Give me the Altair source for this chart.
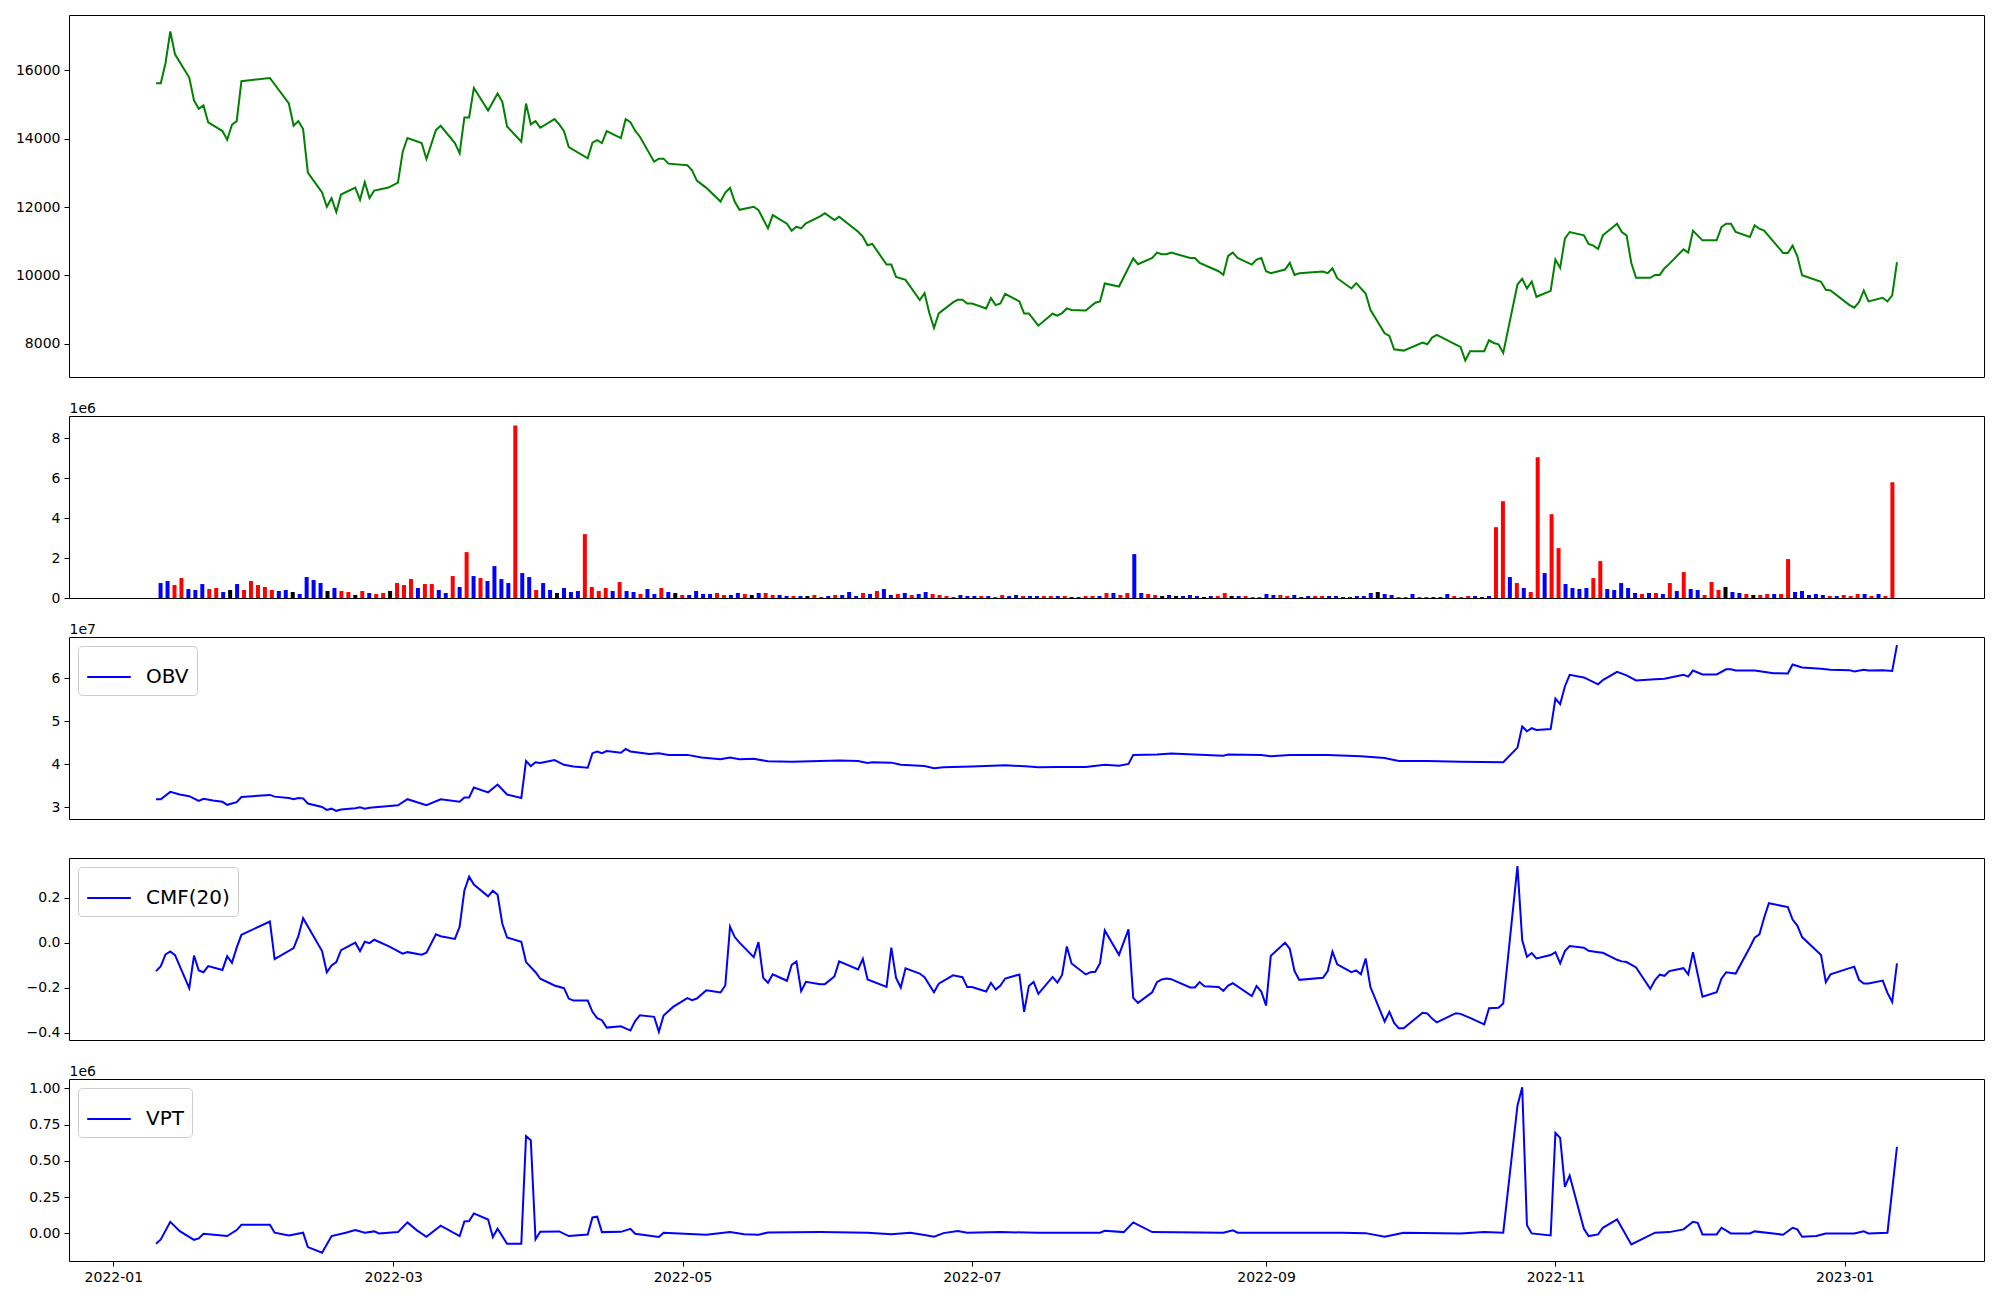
import altair as alt
import pandas as pd

# ---------------- data (days counted from 2022-01-01) ----------------
price_day = [9, 10, 11, 12, 13, 16, 17, 18, 19, 20, 23, 24, 25, 26, 27, 33, 37, 38, 39, 40, 41, 44, 45, 46, 47, 48,
             51, 52, 53, 54, 55, 58, 60, 61, 62, 65, 66, 68, 69, 72, 73, 74, 75, 76, 79, 81, 82, 83, 86, 87, 88, 89, 90,
             93, 94, 95, 96, 100, 101, 102, 103, 104, 107, 108, 109, 110, 111, 114, 115, 116, 117, 121, 122, 123, 125,
             128, 129, 130, 131, 132, 135, 136, 138, 139, 142, 143, 144, 145, 146, 149, 150, 152, 153, 157, 158, 159,
             160, 163, 164, 165, 167, 170, 171, 172, 173, 174, 177, 178, 179, 180, 181, 184, 185, 186, 187, 188, 191,
             192, 193, 195, 198, 199, 200, 201, 202, 205, 207, 208, 209, 212, 215, 216, 219, 220, 221, 222, 223, 227,
             228, 229, 233, 234, 235, 236, 237, 240, 241, 242, 243, 244, 247, 248, 249, 250, 255, 256, 257, 258, 261,
             262, 264, 265, 268, 269, 270, 272, 276, 277, 278, 279, 283, 284, 285, 286, 289, 290, 291, 292, 293, 296,
             297, 298, 299, 300, 303, 304, 305, 306, 307, 310, 311, 312, 313, 314, 317, 318, 319, 320, 321, 324, 325,
             326, 327, 328, 331, 332, 333, 335, 338, 339, 340, 341, 342, 345, 346, 347, 348, 352, 353, 354, 355, 356,
             360, 361, 362, 366, 367, 368, 369, 370, 373, 374, 375, 376]
price_close = [15625, 15625, 16218, 17142, 16471, 15791, 15120, 14877, 14974, 14478, 14225, 13972, 14410, 14517, 15684,
               15781, 15032, 14381, 14517, 14283, 13010, 12426, 12008, 12261, 11852, 12368, 12572, 12212, 12728, 12261,
               12484, 12572, 12718, 13622, 14021, 13875, 13408, 14254, 14381, 13875, 13574, 14624, 14624, 15489, 14828,
               15324, 15081, 14361, 13914, 15032, 14420, 14517, 14322, 14575, 14420, 14225, 13758, 13428, 13885, 13962,
               13875, 14225, 14021, 14575, 14488, 14235, 14060, 13330, 13418, 13418, 13272, 13223, 13078, 12776, 12562,
               12163, 12426, 12562, 12154, 11920, 12008, 11911, 11376, 11765, 11512, 11308, 11425, 11376, 11522, 11726,
               11823, 11619, 11716, 11279, 11133, 10880, 10919, 10316, 10316, 9956, 9869, 9276, 9480, 8906, 8459, 8887,
               9208, 9285, 9285, 9178, 9178, 9032, 9334, 9130, 9178, 9460, 9237, 8887, 8887, 8527, 8877, 8819, 8896,
               9032, 8984, 8974, 9198, 9237, 9762, 9674, 10501, 10326, 10510, 10666, 10618, 10618, 10666, 10510, 10510,
               10364, 10121, 10014, 10569, 10666, 10510, 10316, 10462, 10510, 10121, 10063, 10170, 10364, 10014, 10063,
               10112, 10063, 10209, 9917, 9616, 9771, 9470, 8993, 8303, 8225, 7836, 7797, 8031, 7982, 8177, 8255, 7973,
               7904, 7506, 7778, 7778, 8099, 8021, 7982, 7729, 9733, 9898, 9616, 9820, 9373, 9548, 10462, 10219, 11074,
               11269, 11172, 10919, 10870, 10773, 11172, 11512, 11269, 11172, 10364, 9927, 9927, 10014, 10014, 10209,
               10336, 10763, 10666, 11308, 11026, 11026, 11415, 11512, 11512, 11269, 11123, 11463, 11366, 11308, 10656,
               10656, 10870, 10559, 10005, 9810, 9577, 9558, 9130, 9052, 9217, 9558, 9237, 9344, 9237, 9412, 10384]

# volume bars, one per trading session (millions), colour code b/r/k
vol_millions = [0.75, 0.85, 0.65, 1.0, 0.45, 0.4, 0.7, 0.45, 0.5, 0.3,
                0.4, 0.7, 0.4, 0.85, 0.65, 0.55, 0.4, 0.35, 0.4, 0.3,
                0.2, 1.05, 0.9, 0.75, 0.35, 0.5, 0.35, 0.3, 0.15, 0.35,
                0.25, 0.2, 0.25, 0.35, 0.75, 0.65, 0.95, 0.5, 0.7, 0.7,
                0.4, 0.25, 1.1, 0.55, 2.3, 1.1, 1.0, 0.85, 1.6, 0.95,
                0.75, 8.65, 1.25, 1.05, 0.4, 0.75, 0.4, 0.25, 0.5, 0.3,
                0.35, 3.2, 0.55, 0.35, 0.5, 0.35, 0.8, 0.35, 0.3, 0.2,
                0.45, 0.2, 0.5, 0.3, 0.25, 0.15, 0.15, 0.35, 0.2, 0.2,
                0.25, 0.15, 0.15, 0.25, 0.2, 0.15, 0.25, 0.25, 0.15, 0.15,
                0.1, 0.1, 0.1, 0.1, 0.15, 0.05, 0.1, 0.15, 0.15, 0.3,
                0.1, 0.25, 0.2, 0.35, 0.45, 0.15, 0.2, 0.25, 0.15, 0.2,
                0.3, 0.2, 0.15, 0.1, 0.05, 0.15, 0.1, 0.1, 0.1, 0.1,
                0.05, 0.15, 0.1, 0.15, 0.1, 0.1, 0.1, 0.1, 0.1, 0.1,
                0.1, 0.05, 0.05, 0.1, 0.1, 0.1, 0.25, 0.25, 0.15, 0.25,
                2.2, 0.25, 0.2, 0.15, 0.1, 0.15, 0.1, 0.1, 0.15, 0.1,
                0.05, 0.1, 0.1, 0.25, 0.1, 0.1, 0.1, 0.05, 0.05, 0.2,
                0.15, 0.15, 0.1, 0.15, 0.05, 0.1, 0.1, 0.1, 0.1, 0.1,
                0.05, 0.05, 0.1, 0.1, 0.25, 0.3, 0.2, 0.15, 0.05, 0.05,
                0.2, 0.05, 0.05, 0.05, 0.05, 0.2, 0.1, 0.05, 0.1, 0.1,
                0.05, 0.1, 3.55, 4.85, 1.05, 0.75, 0.5, 0.3, 7.05, 1.25,
                4.2, 2.5, 0.7, 0.5, 0.45, 0.5, 1.0, 1.85, 0.45, 0.4,
                0.75, 0.5, 0.25, 0.2, 0.25, 0.25, 0.2, 0.75, 0.35, 1.3,
                0.45, 0.4, 0.15, 0.8, 0.4, 0.55, 0.3, 0.25, 0.2, 0.15,
                0.15, 0.2, 0.2, 0.2, 1.95, 0.3, 0.35, 0.15, 0.2, 0.15,
                0.1, 0.1, 0.15, 0.1, 0.2, 0.2, 0.1, 0.2, 0.1, 5.8]
vol_color = list("bbrrbbbrrb" "kbrrrrrbbk" "bbbbkbrrkr" "brrkrrrbrr" "bbrbrbrbbb"
                 "brbbrbbkbb" "brrrrbrbbr" "bbrbkrbbbb" "rrbbrkbrrb" "brbkrrbrbb"
                 "brbrbbrbrb" "brrrrbbbrb" "rrbbrbbrrb" "rbbrrbrbrr" "bbrrkbkbbb"
                 "kbrrkbrrrb" "brrbbbrrbb" "bbbbbkbbrr" "brrbbbrrrb" "bbrrbrbrrb"
                 "rrbbbbrrbb" "bbbrbrbrbr" "bbrrrkbbrk" "rrbrrbbbbb" "rbrrrbrbrr")

obv_day = [9, 10, 12, 14, 16, 18, 19, 21, 23, 24, 26, 27, 33, 34, 37, 38, 39, 40, 41, 44, 45, 46, 47, 48, 51, 52, 53,
           54, 60, 62, 66, 69, 73, 74, 75, 76, 79, 81, 83, 86, 87, 88, 89, 90, 93, 95, 97, 100, 101, 102, 103, 104, 107,
           108, 109, 113, 115, 117, 121, 124, 128, 130, 132, 135, 138, 143, 149, 153, 157, 159, 160, 164, 166, 171,
           173, 175, 181, 188, 193, 195, 199, 205, 209, 212, 214, 215, 220, 223, 234, 235, 242, 244, 248, 256, 263,
           268, 271, 277, 284, 293, 296, 297, 298, 299, 300, 303, 304, 305, 306, 307, 310, 313, 314, 317, 319, 321,
           325, 327, 331, 332, 333, 335, 338, 340, 341, 342, 346, 350, 353, 354, 356, 360, 362, 366, 367, 369, 370,
           373, 375, 376]
obv_1e7 = [3.19, 3.19, 3.36, 3.30, 3.26, 3.15, 3.20, 3.16, 3.13, 3.06, 3.12, 3.24, 3.29, 3.25, 3.22, 3.19, 3.22, 3.21,
           3.09, 3.01, 2.94, 2.97, 2.92, 2.95, 2.98, 3.00, 2.97, 2.99, 3.05, 3.19, 3.05, 3.19, 3.13, 3.23, 3.23, 3.46,
           3.35, 3.53, 3.30, 3.22, 4.08, 3.96, 4.05, 4.03, 4.10, 3.99, 3.95, 3.92, 4.26, 4.30, 4.26, 4.31, 4.27, 4.36,
           4.30, 4.24, 4.26, 4.22, 4.22, 4.16, 4.12, 4.16, 4.12, 4.13, 4.07, 4.06, 4.08, 4.09, 4.08, 4.03, 4.05, 4.04,
           3.99, 3.96, 3.91, 3.93, 3.95, 3.98, 3.95, 3.93, 3.94, 3.94, 3.99, 3.97, 4.01, 4.22, 4.23, 4.25, 4.20, 4.23,
           4.22, 4.19, 4.22, 4.22, 4.19, 4.15, 4.08, 4.08, 4.06, 4.05, 4.39, 4.88, 4.77, 4.84, 4.80, 4.82, 5.53, 5.40,
           5.81, 6.08, 6.02, 5.86, 5.96, 6.15, 6.07, 5.95, 5.98, 5.99, 6.08, 6.04, 6.18, 6.09, 6.09, 6.21, 6.21, 6.18,
           6.18, 6.12, 6.11, 6.32, 6.25, 6.22, 6.20, 6.19, 6.16, 6.20, 6.18, 6.19, 6.17, 6.77]

cmf_day = [9, 10, 11, 12, 13, 16, 17, 18, 19, 20, 23, 24, 25, 26, 27, 33, 34, 38, 39, 40, 44, 45, 46, 47, 48, 51, 52,
           53, 54, 55, 58, 61, 62, 65, 66, 68, 69, 72, 73, 74, 75, 76, 79, 80, 81, 82, 83, 86, 87, 89, 90, 93, 95, 96,
           97, 100, 101, 102, 103, 104, 107, 109, 110, 111, 114, 115, 116, 118, 121, 122, 123, 125, 128, 129, 130, 131,
           132, 135, 136, 137, 138, 139, 142, 143, 144, 145, 146, 149, 150, 152, 153, 157, 158, 159, 163, 164, 165,
           166, 167, 170, 171, 173, 174, 177, 179, 180, 181, 184, 185, 186, 187, 188, 191, 192, 193, 194, 195, 198,
           199, 200, 201, 202, 205, 206, 207, 208, 209, 212, 214, 215, 216, 219, 220, 221, 222, 223, 227, 228, 229,
           230, 233, 234, 235, 236, 240, 241, 242, 243, 244, 247, 248, 249, 250, 255, 256, 257, 258, 261, 262, 263,
           264, 265, 268, 269, 270, 271, 272, 276, 277, 278, 279, 283, 284, 286, 289, 290, 292, 293, 296, 297, 298,
           299, 300, 303, 304, 305, 306, 307, 310, 311, 313, 314, 317, 318, 319, 321, 324, 325, 326, 327, 328, 331,
           332, 333, 335, 338, 339, 340, 342, 345, 346, 347, 348, 349, 353, 354, 355, 356, 360, 361, 362, 366, 367,
           368, 369, 370, 373, 374, 375, 376]
cmf_value = [-0.126, -0.104, -0.052, -0.039, -0.055, -0.202, -0.057, -0.123, -0.131, -0.104, -0.121, -0.060, -0.089,
             -0.022, 0.035, 0.094, -0.073, -0.024, 0.029, 0.109, -0.037, -0.131, -0.101, -0.086, -0.033, 0.0, -0.037,
             0.004, -0.002, 0.013, -0.015, -0.049, -0.042, -0.053, -0.044, 0.037, 0.029, 0.017, 0.071, 0.232, 0.293,
             0.258, 0.206, 0.231, 0.213, 0.084, 0.023, 0.004, -0.086, -0.131, -0.160, -0.190, -0.202, -0.248, -0.257,
             -0.257, -0.307, -0.335, -0.344, -0.377, -0.371, -0.390, -0.348, -0.322, -0.329, -0.396, -0.323, -0.285,
             -0.246, -0.255, -0.248, -0.211, -0.221, -0.190, 0.071, 0.025, 0.0, -0.064, 0.003, -0.156, -0.178, -0.140,
             -0.169, -0.098, -0.083, -0.215, -0.174, -0.184, -0.184, -0.150, -0.083, -0.119, -0.072, -0.163, -0.196,
             -0.022, -0.156, -0.199, -0.114, -0.137, -0.153, -0.220, -0.182, -0.145, -0.153, -0.197, -0.197, -0.217,
             -0.178, -0.208, -0.190, -0.159, -0.141, -0.307, -0.192, -0.174, -0.227, -0.152, -0.177, -0.143, -0.017,
             -0.092, -0.141, -0.131, -0.129, -0.091, 0.054, -0.054, 0.059, -0.245, -0.267, -0.220, -0.175, -0.163,
             -0.159, -0.162, -0.199, -0.199, -0.175, -0.193, -0.197, -0.214, -0.190, -0.180, -0.237, -0.193, -0.217,
             -0.279, -0.058, 0.0, -0.027, -0.126, -0.165, -0.156, -0.126, -0.040, -0.096, -0.131, -0.123, -0.140,
             -0.070, -0.197, -0.350, -0.307, -0.356, -0.380, -0.380, -0.311, -0.314, -0.337, -0.354, -0.313, -0.316,
             -0.334, -0.363, -0.291, -0.289, -0.270, 0.340, 0.012, -0.063, -0.046, -0.070, -0.055, -0.042, -0.092,
             -0.037, -0.015, -0.022, -0.036, -0.042, -0.045, -0.076, -0.083, -0.086, -0.110, -0.205, -0.166, -0.142,
             -0.147, -0.126, -0.113, -0.141, -0.042, -0.240, -0.220, -0.160, -0.131, -0.137, -0.020, 0.022, 0.037,
             0.111, 0.175, 0.158, 0.103, 0.076, 0.025, -0.055, -0.175, -0.140, -0.113, -0.107, -0.165, -0.181, -0.181,
             -0.168, -0.223, -0.263, -0.092]

vpt_day = [9, 10, 12, 14, 17, 18, 19, 24, 26, 27, 33, 34, 37, 40, 41, 44, 46, 49, 51, 53, 55, 56, 60, 62, 64, 66, 69,
           73, 74, 75, 76, 79, 80, 81, 83, 86, 87, 88, 89, 90, 94, 96, 100, 101, 102, 103, 107, 109, 110, 115, 116,
           125, 130, 133, 136, 138, 149, 159, 164, 168, 171, 173, 175, 178, 180, 187, 195, 208, 209, 213, 215, 219,
           234, 236, 237, 245, 259, 264, 268, 272, 284, 289, 293, 296, 297, 298, 299, 303, 304, 305, 306, 307, 310,
           311, 313, 314, 317, 320, 325, 328, 331, 333, 334, 335, 338, 339, 341, 345, 346, 352, 354, 355, 356, 359,
           361, 367, 369, 370, 374, 376]
vpt_1e6 = [-0.071, -0.041, 0.080, 0.016, -0.044, -0.034, -0.002, -0.018, 0.023, 0.060, 0.060, 0.005, -0.014, 0.005,
           -0.094, -0.133, -0.018, 0.005, 0.023, 0.005, 0.014, 0.0, 0.009, 0.076, 0.021, -0.023, 0.053, -0.018, 0.083,
           0.085, 0.138, 0.096, -0.025, 0.032, -0.071, -0.071, 0.670, 0.642, -0.041, 0.011, 0.014, -0.018, -0.007,
           0.110, 0.115, 0.009, 0.011, 0.032, -0.002, -0.025, 0.005, -0.009, 0.009, -0.005, -0.009, 0.007, 0.009,
           0.005, -0.005, 0.005, -0.011, -0.023, 0.002, 0.016, 0.005, 0.009, 0.005, 0.005, 0.018, 0.009, 0.076, 0.009,
           0.005, 0.021, 0.005, 0.005, 0.005, 0.002, -0.023, 0.005, 0.0, 0.009, 0.005, 0.88, 1.007, 0.057, 0.0, -0.014,
           0.693, 0.658, 0.321, 0.399, 0.032, -0.018, -0.007, 0.039, 0.096, -0.076, 0.005, 0.009, 0.028, 0.080, 0.073,
           -0.007, -0.007, 0.039, 0.0, 0.0, 0.014, -0.009, 0.039, 0.028, -0.023, -0.018, 0.0, 0.0, 0.014, 0.0, 0.005,
           0.596]

# ---------------- helpers ----------------
BASE = pd.Timestamp("2022-01-01")


def to_dates(days):
    return [(BASE + pd.Timedelta(days=d)).strftime("%Y-%m-%dT00:00:00") for d in days]


W = 1915
FONT = "DejaVu Sans"

x_date_scale = alt.Scale(domain=[alt.DateTime(year=2021, month=12, date=22, hours=15, minutes=36),
                                 alt.DateTime(year=2023, month=1, date=30, hours=8, minutes=24)],
                         nice=False)


def offset_axis(values, label_expr, title):
    kw = dict(values=values, labelExpr=label_expr, grid=False, ticks=True, domain=False)
    if title:
        kw.update(title=title, titleAngle=0, titleX=0, titleY=-4, titleAlign="left",
                  titleBaseline="alphabetic", titleFontSize=14, titleFontWeight="normal",
                  titleFont=FONT, titleColor="black")
    else:
        kw.update(title=None)
    return alt.Axis(**kw)


def legend_for(name):
    return alt.Legend(title=None, orient="top-left", offset=9, padding=8, strokeColor="#cccccc",
                      fillColor="rgba(255,255,255,0.8)", cornerRadius=4, symbolType="stroke",
                      symbolSize=1900, symbolStrokeWidth=2, labelFontSize=20, labelFont=FONT,
                      labelColor="black", labelOffset=14)


# ---------------- panels ----------------
price_df = pd.DataFrame({"date": to_dates(price_day), "close": price_close})
price = alt.Chart(price_df).mark_line(color="green", strokeWidth=2).encode(
    x=alt.X("date:T", scale=x_date_scale, axis=None),
    y=alt.Y("close:Q", scale=alt.Scale(domain=[7024, 17624], nice=False, zero=False),
            axis=offset_axis([8000, 10000, 12000, 14000, 16000], "format(datum.value, 'd')", None)),
).properties(width=W, height=362)

vol_df = pd.DataFrame({"idx": list(range(len(vol_millions))),
                       "volume": [v * 1e6 for v in vol_millions],
                       "c": vol_color})
volume = alt.Chart(vol_df).mark_bar(size=4).encode(
    x=alt.X("idx:Q", scale=alt.Scale(domain=[-12.45, 261.45], nice=False, zero=False), axis=None),
    y=alt.Y("volume:Q", scale=alt.Scale(domain=[0, 9.12e6], nice=False),
            axis=offset_axis([0, 2e6, 4e6, 6e6, 8e6], "format(datum.value / 1e6, 'd')", "1e6")),
    color=alt.Color("c:N", scale=alt.Scale(domain=["b", "r", "k"], range=["blue", "red", "black"]), legend=None),
).properties(width=W, height=182)

obv_df = pd.DataFrame({"date": to_dates(obv_day), "v": [v * 1e7 for v in obv_1e7], "s": "OBV"})
obv = alt.Chart(obv_df).mark_line(strokeWidth=2).encode(
    x=alt.X("date:T", scale=x_date_scale, axis=None),
    y=alt.Y("v:Q", scale=alt.Scale(domain=[2.73e7, 6.96e7], nice=False, zero=False),
            axis=offset_axis([3e7, 4e7, 5e7, 6e7], "format(datum.value / 1e7, 'd')", "1e7")),
    color=alt.Color("s:N", scale=alt.Scale(domain=["OBV"], range=["blue"]), legend=legend_for("OBV")),
).properties(width=W, height=182)

cmf_df = pd.DataFrame({"date": to_dates(cmf_day), "v": cmf_value, "s": "CMF(20)"})
cmf = alt.Chart(cmf_df).mark_line(strokeWidth=2).encode(
    x=alt.X("date:T", scale=x_date_scale, axis=None),
    y=alt.Y("v:Q", scale=alt.Scale(domain=[-0.432, 0.376], nice=False, zero=False),
            axis=offset_axis([-0.4, -0.2, 0.0, 0.2], "replace(format(datum.value, '.1f'), '-', '\u2212')", None)),
    color=alt.Color("s:N", scale=alt.Scale(domain=["CMF(20)"], range=["blue"]), legend=legend_for("CMF(20)")),
).properties(width=W, height=182)

vpt_df = pd.DataFrame({"date": to_dates(vpt_day), "v": [v * 1e6 for v in vpt_1e6], "s": "VPT"})
vpt = alt.Chart(vpt_df).mark_line(strokeWidth=2).encode(
    x=alt.X("date:T", scale=x_date_scale,
            axis=alt.Axis(values=[alt.DateTime(year=2022, month=1, date=1), alt.DateTime(year=2022, month=3, date=1),
                                  alt.DateTime(year=2022, month=5, date=1), alt.DateTime(year=2022, month=7, date=1),
                                  alt.DateTime(year=2022, month=9, date=1), alt.DateTime(year=2022, month=11, date=1),
                                  alt.DateTime(year=2023, month=1, date=1)],
                          format="%Y-%m", title=None, grid=False, domain=False, labelFlush=False,
                          labelOverlap=False)),
    y=alt.Y("v:Q", scale=alt.Scale(domain=[-0.19e6, 1.064e6], nice=False, zero=False),
            axis=offset_axis([0, 0.25e6, 0.5e6, 0.75e6, 1.0e6], "format(datum.value / 1e6, '.2f')", "1e6")),
    color=alt.Color("s:N", scale=alt.Scale(domain=["VPT"], range=["blue"]), legend=legend_for("VPT")),
).properties(width=W, height=182)

chart = alt.vconcat(price, volume, obv, cmf, vpt, spacing=39, bounds="flush").resolve_scale(
    x="independent", y="independent", color="independent"
).resolve_legend(color="independent").properties(
    padding={"left": 6, "top": 6, "right": 5, "bottom": 5},
    background="white",
).configure_view(
    stroke="black", strokeWidth=1
).configure_axis(
    labelFont=FONT, labelFontSize=14, labelColor="black", tickColor="black", tickSize=5, tickWidth=1,
    labelPadding=4, grid=False
)

chart.save("out.html", embed_options={"renderer": "svg", "actions": False})
